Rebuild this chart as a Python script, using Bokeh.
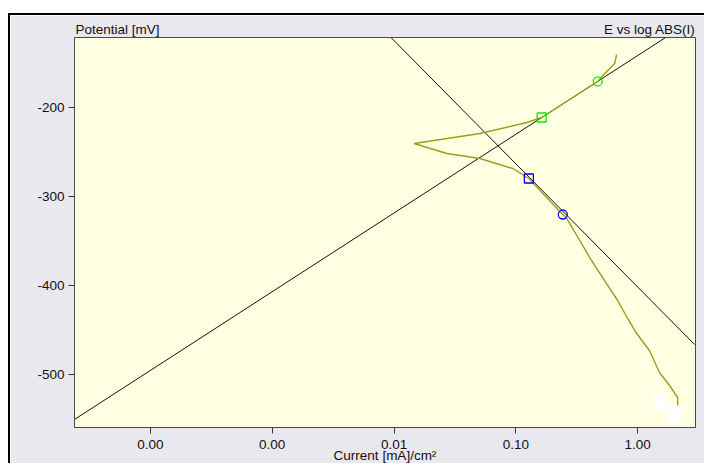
from bokeh.plotting import figure
from bokeh.models import FixedTicker, LogAxis, Range1d
from bokeh.embed import file_html
from bokeh.resources import INLINE

# Measured polarisation scan: current density (mA/cm2) and potential (mV)
scan_current = [2.13, 2.13, 1.83, 1.51, 1.25, 0.982, 0.828, 0.685, 0.516, 0.404,
                0.335, 0.262, 0.243, 0.176, 0.128, 0.0944, 0.0507, 0.0272, 0.0146,
                0.0507, 0.123, 0.163, 0.277, 0.470, 0.537, 0.648, 0.672]
scan_potential = [-536.7, -525.5, -512.0, -497.4, -472.7, -453.6, -436.7, -416.5,
                  -390.7, -368.2, -349.1, -324.4, -319.9, -299.7, -279.4, -268.2,
                  -257.0, -251.3, -240.1, -228.9, -216.5, -210.9, -190.7, -170.4,
                  -161.5, -150.2, -140.1]

# Tafel fit lines (end points)
anodic_current = [2.38e-5, 1.697]
anodic_potential = [-550.2, -121.0]
cathodic_current = [0.00944, 2.93]
cathodic_potential = [-121.0, -465.9]

# Fit region markers
anodic_fit_current = [0.163, 0.470]
anodic_fit_potential = [-210.9, -170.4]
cathodic_fit_current = [0.128, 0.243]
cathodic_fit_potential = [-279.4, -319.9]

# masked points at end of scan
masked_current = [1.486, 1.633, 2.05, 1.97]
masked_potential = [-527.8, -535.6, -541.2, -548.0]

x_tick_values = [1e-4, 1e-3, 1e-2, 1e-1, 1.0]
x_tick_labels = ["0.00", "0.00", "0.01", "0.10", "1.00"]
y_tick_values = [-200, -300, -400, -500]
y_tick_labels = ["-200", "-300", "-400", "-500"]

# header texts (y-axis name at left, plot name at right) and where they sit
header_positions = [5.36e-5, 1.259]
header_texts = ["Potential [mV]", "E vs log ABS(I)"]
x_axis_title = "Current [mA]/cm²"

x_start, x_end = 2.382e-5, 2.985
y_start, y_end = -559.2, -121.0

FONT = "Liberation Sans"
FS = "13.5px"
W, H = 696, 450

p = figure(width=W, height=H, x_axis_type="log",
           x_range=Range1d(x_start, x_end), y_range=Range1d(y_start, y_end),
           output_backend="svg", toolbar_location=None,
           min_border_left=64, min_border_right=11, min_border_top=22, min_border_bottom=38,
           margin=(13, 0, 0, 8))
p.styles = {"border-left": "2px solid #000000", "border-top": "2px solid #000000"}

p.background_fill_color = "#FFFFE1"
p.border_fill_color = "#EAE8EF"
p.outline_line_color = "#4A4A4A"
p.outline_line_width = 1
p.grid.visible = False

p.xaxis.ticker = FixedTicker(ticks=x_tick_values)
p.xaxis.major_label_overrides = {v: l for v, l in zip(x_tick_values, x_tick_labels)}
p.yaxis.ticker = FixedTicker(ticks=y_tick_values)
p.yaxis.major_label_overrides = {v: l for v, l in zip(y_tick_values, y_tick_labels)}

for ax in (p.xaxis, p.yaxis):
    ax.axis_line_color = "#4A4A4A"
    ax.major_tick_line_color = "#333333"
    ax.major_tick_out = 6
    ax.major_tick_in = 0
    ax.minor_tick_out = 0
    ax.minor_tick_in = 0
    ax.major_label_text_font = FONT
    ax.major_label_text_font_size = FS
    ax.major_label_text_color = "#111111"
    ax.major_label_standoff = 4

p.xaxis.major_label_standoff = 6
p.xaxis.axis_label = x_axis_title
p.xaxis.axis_label_standoff = -4
p.xaxis.axis_label_text_font = FONT
p.xaxis.axis_label_text_font_size = FS
p.xaxis.axis_label_text_font_style = "normal"
p.xaxis.axis_label_text_color = "#111111"

header = LogAxis(ticker=FixedTicker(ticks=header_positions),
                 major_label_overrides={v: t for v, t in zip(header_positions, header_texts)})
header.axis_line_color = None
header.major_tick_line_color = None
header.minor_tick_line_color = None
header.major_tick_out = 0
header.major_tick_in = 0
header.major_label_standoff = 1
header.major_label_text_font = FONT
header.major_label_text_font_size = FS
header.major_label_text_color = "#111111"
p.add_layout(header, "above")

p.line(anodic_current, anodic_potential, line_color="#111111", line_width=1)
p.line(cathodic_current, cathodic_potential, line_color="#111111", line_width=1)
p.line(scan_current, scan_potential, line_color="#9C9C1E", line_width=1.4)

p.scatter(anodic_fit_current[:1], anodic_fit_potential[:1], marker="square", size=9,
          fill_alpha=0, line_color="#00EE00", line_width=1.3)
p.scatter(anodic_fit_current[1:], anodic_fit_potential[1:], marker="circle", size=9,
          fill_alpha=0, line_color="#00EE00", line_width=1.3)
p.scatter(cathodic_fit_current[:1], cathodic_fit_potential[:1], marker="square", size=9,
          fill_alpha=0, line_color="#0000EE", line_width=1.3)
p.scatter(cathodic_fit_current[1:], cathodic_fit_potential[1:], marker="circle", size=9,
          fill_alpha=0, line_color="#0000EE", line_width=1.3)
p.scatter(masked_current, masked_potential, marker="square", size=12,
          fill_color="#FFFFFF", line_color=None)

open("out.html", "w").write(file_html(p, INLINE))
